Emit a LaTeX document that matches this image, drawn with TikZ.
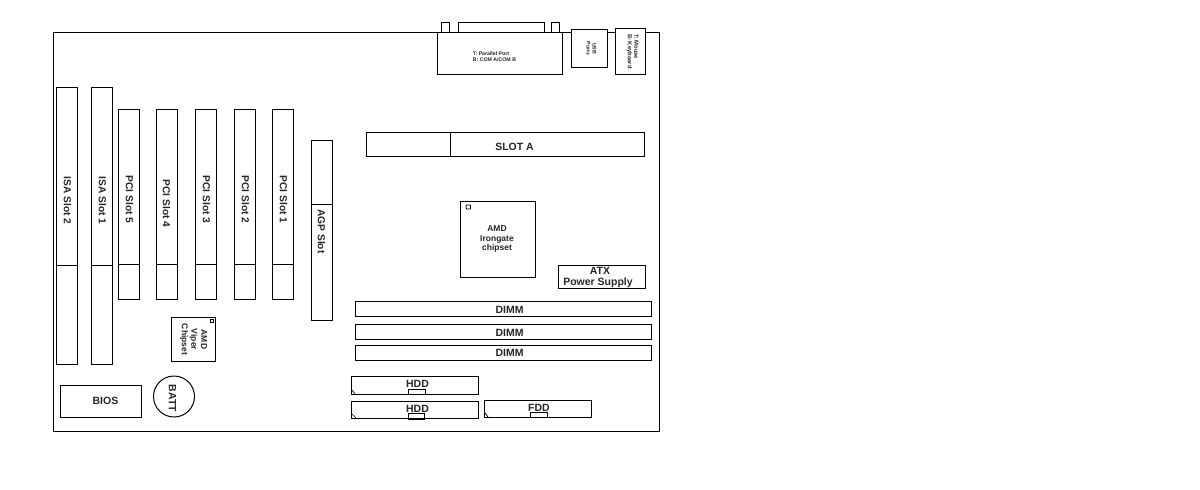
\documentclass[tikz,border=0pt]{standalone}
\usepackage{fontspec}
\setmainfont{Liberation Sans}
\tikzset{
  x=1pt,y=-1pt,
  part/.style={draw=black,line width=1pt,fill=none},
  lab/.style={font=\bfseries\fontsize{10.5}{11}\selectfont,text=black!85,inner sep=0pt,align=center},
  vlab/.style={lab,rotate=-90,font=\bfseries\fontsize{10.2}{11}\selectfont},
  tiny lab/.style={font=\bfseries\fontsize{5.2}{6}\selectfont,text=black!85,inner sep=0pt,align=left},
  mid lab/.style={font=\bfseries\fontsize{8.5}{9.6}\selectfont,text=black!85,inner sep=0pt,align=center}
}
\newcommand{\rct}[4]{\draw[part] ({#1+1},{#2+1}) rectangle ({#3+1},{#4+1});}
\newcommand{\hdiv}[3]{\draw[part] ({#1+1},{#3+1}) -- ({#2+1},{#3+1});}
\newcommand{\vdiv}[3]{\draw[part] ({#1+1},{#2+1}) -- ({#1+1},{#3+1});}
\newcommand{\tabup}[2]{\draw[part] ({#1+1},33) -- ({#1+1},23) -- ({#2+1},23) -- ({#2+1},33);}
\newcommand{\slotv}[5]{\rct{#1}{#2}{#3}{#4}\hdiv{#1}{#3}{#5}}
\begin{document}
\begin{tikzpicture}
\useasboundingbox (0,0) rectangle (1200,490);
\fill[white] (0,0) rectangle (1200,490);
\begin{scope}[shift={(-0.5,-0.5)}]
\rct{53}{32}{659}{431}
% rear I/O
\fill[white] (438,34) rectangle (563,74);
\rct{437}{32}{562}{74}
\tabup{441}{449}
\tabup{458}{544}
\tabup{551}{559}
\fill[white] (572,31) rectangle (608,68);
\rct{571}{29}{607}{67}
\fill[white] (616,31) rectangle (646,74);
\rct{615}{28}{645}{74}
\node[tiny lab] (par) at (495,57) {T: Parallel Port\\B: COM A/COM B};
\node[tiny lab,rotate=-90,align=center] (usb) at (592,49) {USB\\Ports};
\node[tiny lab,rotate=-90,font=\bfseries\fontsize{5.8}{6.4}\selectfont] (kb) at (633,52) {T: Mouse\\B: Keyboard};
% expansion slots
\slotv{56}{87}{77}{364}{265}
\slotv{91}{87}{112}{364}{265}
\slotv{118}{109}{139}{299}{264}
\slotv{156}{109}{177}{299}{264}
\slotv{195}{109}{216}{299}{264}
\slotv{234}{109}{255}{299}{264}
\slotv{272}{109}{293}{299}{264}
\slotv{311}{140}{332}{320}{204}
\node[vlab] (isa2t) at (68,201) {ISA Slot 2};
\node[vlab] (isa1t) at (103,201) {ISA Slot 1};
\node[vlab] (pci5t) at (130,200) {PCI Slot 5};
\node[vlab] (pci4t) at (167,204) {PCI Slot 4};
\node[vlab] (pci3t) at (207,200) {PCI Slot 3};
\node[vlab] (pci2t) at (246,200) {PCI Slot 2};
\node[vlab] (pci1t) at (284,200) {PCI Slot 1};
\node[vlab] (agpt) at (322,232) {AGP Slot};
% slot A
\rct{366}{132}{644}{156}
\vdiv{450}{132}{156}
\node[lab] (slota) at (515,147) {SLOT A};
% north bridge
\rct{460}{201}{535}{277}
\draw[line width=.8pt] (467.5,205.5) -- (471,205.5) -- (471,209.5) -- (467.5,209.5) -- (466.5,208.5) -- (466.5,206.5) -- cycle;
\node[mid lab] (nb) at (497.5,239.5) {AMD\\Irongate\\chipset};
% ATX
\rct{558}{265}{645}{288}
\node[lab] (atx) at (598.5,277.5) {\hspace*{4pt}ATX\\Power Supply};
% DIMMs
\rct{355}{301}{651}{316}
\rct{355}{324}{651}{339}
\rct{355}{345}{651}{360}
\node[lab] (d1) at (510,310.5) {DIMM};
\node[lab] (d2) at (510,333.5) {DIMM};
\node[lab] (d3) at (510,353) {DIMM};
% drive headers
\rct{351}{376}{478}{394}
\rct{408}{389}{425}{394}
\draw[line width=.7pt] (352.5,390.5) -- (355.5,394.5);
\node[lab] (hdd1) at (418,384.5) {HDD};
\rct{351}{401}{478}{418}
\rct{408}{413}{424}{419}
\draw[line width=.7pt] (352.5,414.5) -- (357.5,419.5);
\node[lab] (hdd2) at (418,409.5) {HDD};
\rct{484}{400}{591}{417}
\rct{530}{412}{547}{417}
\draw[line width=.7pt] (485.5,413.5) -- (488.5,417.5);
\node[lab] (fdd) at (539.5,408.5) {FDD};
% south bridge
\rct{171}{317}{215}{361}
\draw[line width=.8pt] (210.5,319.5) rectangle (213.5,322.5);
\node[mid lab,rotate=-90] (sb) at (194,340) {AMD\\Viper\\Chipset};
% BIOS and battery
\rct{60}{385}{141}{417}
\node[lab] (bios) at (106,401.5) {BIOS};
\node[draw=black,line width=1pt,circle,minimum size=41pt,inner sep=0pt] (battc) at (174.5,397) {};
\node[vlab,font=\bfseries\fontsize{10.5}{11}\selectfont] (batt) at (173,399) {BATT};
\end{scope}
\end{tikzpicture}
\end{document}
